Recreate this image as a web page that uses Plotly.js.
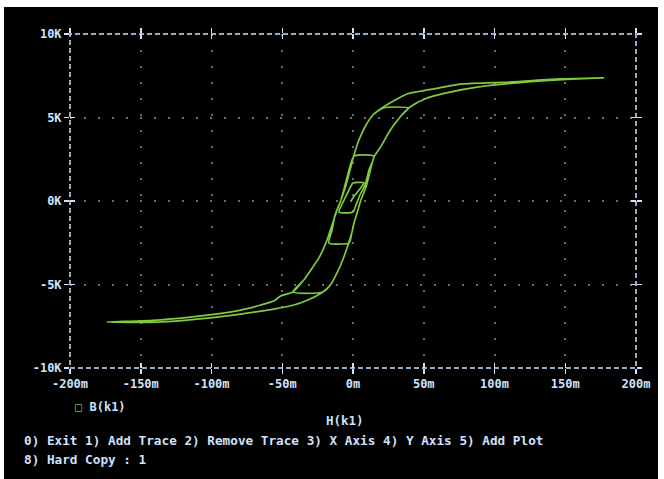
<!DOCTYPE html>
<html>
<head>
<meta charset="utf-8">
<script src="https://cdn.plot.ly/plotly-3.0.1.min.js"></script>
<style>
  html, body { margin: 0; padding: 0; background: #ffffff; width: 664px; height: 479px; overflow: hidden; }
  #chart { position: absolute; left: 4px; top: 7px; width: 654px; height: 472px; }
</style>
</head>
<body>
<div id="chart"></div>
<script>
// Tick positions / labels
const xTickVals = [-200, -150, -100, -50, 0, 50, 100, 150, 200];
const xTickText = ["-200m", "-150m", "-100m", "-50m", "0m", "50m", "100m", "150m", "200m"];
const yTickVals = [-10, -5, 0, 5, 10];
const yTickText = ["-10K", "-5K", "0K", "5K", "10K"];

// H (milli units) and B (K units), in trace order
// initial magnetisation and growing minor loops
const minorH = [-1.4, 1.4, 4.9, 7.7, 0, -2.8, -6.3, -9.9, 0, 2.1, 4.9, 8.5, 11.3, 14.8,
  0.7, -2.8, -5.6, -8.5, -12.7, -14.8, -17.0, -2.8, -0.7, 0.7, 3.5, 5.6, 9.2, 12.0, 14.8,
  19.4, 26.4, 33.3, 38.9, 21.5, 14.1, 9.2, 4.2, 0.7, -2.1, -4.9, -8.5, -12.0, -15.5, -19.1,
  -24.1, -29.8, -34.8, -42.6, -21.3, -15.5, -11.3, -7.0, -3.5, -0.7, 0.7, 3.5, 5.6, 9.2,
  12.0, 14.8, 19.4, 26.4, 33.3, 40.3, 50.7, 66.0, 88.9, 123.6, 158.3, 177.1];
const minorB = [0, 0.36, 0.72, 1.08, 1.08, 0.66, 0.06, -0.66, -0.66, -0.24, 0.36, 0.96, 1.86, 2.69,
  2.69, 1.86, 0.96, 0.06, -0.84, -1.74, -2.51, -2.51, -1.86, -1.32, -0.54, 0.06, 0.84, 1.74, 2.63,
  3.23, 4.25, 5.03, 5.57, 5.57, 5.15, 4.55, 3.65, 2.75, 1.86, 0.96, 0.06, -0.72, -1.62, -2.51,
  -3.41, -4.13, -4.73, -5.45, -5.45, -4.97, -4.31, -3.47, -2.63, -1.86, -1.32, -0.54, 0.06, 0.84,
  1.74, 2.63, 3.23, 4.25, 5.03, 5.63, 6.11, 6.47, 6.83, 7.13, 7.31, 7.37];
// outer descending branch
const downH = [146.5, 111.8, 77.1, 61.1, 38.2, 29.9, 21.5, 14.1, 9.2, 4.2, 0.7, -2.1, -4.9, -8.5,
  -12.0, -15.5, -19.1, -24.1, -29.8, -34.8, -42.6, -51.1, -56.0, -65.2, -79.4, -102.8, -138.3, -173.8];
const downB = [7.31, 7.13, 7.01, 6.77, 6.41, 6.05, 5.63, 5.15, 4.55, 3.65, 2.75, 1.86, 0.96, 0.06,
  -0.72, -1.62, -2.51, -3.41, -4.13, -4.73, -5.45, -5.69, -5.99, -6.23, -6.53, -6.83, -7.13, -7.25];
// outer ascending branch
const upH = [-138.3, -102.8, -79.4, -56.0, -41.8, -31.9, -21.3, -15.5, -11.3, -7.0, -3.5, -0.7, 0.7,
  3.5, 5.6, 9.2, 12.0, 14.8, 19.4, 26.4, 33.3, 40.3, 50.7, 66.0, 88.9, 123.6, 158.3, 177.1];
const upB = [-7.25, -7.01, -6.77, -6.47, -6.23, -5.93, -5.45, -4.97, -4.31, -3.47, -2.63, -1.86, -1.32,
  -0.54, 0.06, 0.84, 1.74, 2.63, 3.23, 4.25, 5.03, 5.63, 6.11, 6.47, 6.83, 7.13, 7.31, 7.37];

const H = minorH.concat(downH, upH);
const B = minorB.concat(downB, upB);

const txtColor = "#cfe2fb";
const gridColor = "rgba(190,200,215,0.55)";
const monoFont = "DejaVu Sans Mono, monospace";

const traces = [
  {x: H, y: B, type: "scatter", mode: "lines", name: "B(k1)",
   line: {color: "#80c940", width: 1.7, shape: "spline", smoothing: 0.6},
   showlegend: false, hoverinfo: "skip"},
  {x: H, y: B, type: "scatter", mode: "lines", xaxis: "x2", yaxis: "y2",
   line: {color: "rgba(0,0,0,0)", width: 0}, showlegend: false, hoverinfo: "skip"}
];

const axisCommon = {
  showline: false, zeroline: false, ticklen: 5, tickwidth: 1.5, tickcolor: txtColor,
  tickfont: {family: monoFont, size: 12, color: txtColor, weight: "bold"}
};

const layout = {
  width: 654, height: 472,
  margin: {l: 66, r: 22, t: 27, b: 111},
  paper_bgcolor: "#000000", plot_bgcolor: "#000000",
  showlegend: false,
  xaxis: Object.assign({}, axisCommon, {
    range: [-200, 200], tickvals: xTickVals, ticktext: xTickText,
    ticks: "outside", mirror: "ticks",
    showgrid: true, gridcolor: gridColor, gridwidth: 2, griddash: "2px,14px"
  }),
  yaxis: Object.assign({}, axisCommon, {
    range: [-10, 10], tickvals: yTickVals, ticktext: yTickText,
    ticks: "outside", mirror: "ticks", ticklabelstandoff: 0,
    showgrid: true, gridcolor: gridColor, gridwidth: 2, griddash: "2px,12px"
  }),
  xaxis2: Object.assign({}, axisCommon, {
    overlaying: "x", anchor: "y2", range: [-200, 200], tickvals: xTickVals,
    ticks: "inside", mirror: "ticks", showgrid: false, showticklabels: false
  }),
  yaxis2: Object.assign({}, axisCommon, {
    overlaying: "y", anchor: "x2", range: [-10, 10], tickvals: yTickVals,
    ticks: "inside", mirror: "ticks", showgrid: false, showticklabels: false
  }),
  shapes: [
    {type: "rect", xref: "paper", yref: "paper", x0: 0, x1: 1, y0: 0, y1: 1,
     line: {color: txtColor, width: 1.5, dash: "5px,3px"}, layer: "above"}
  ],
  annotations: [
    {xref: "paper", yref: "paper", x: 0.006, y: -0.117, xanchor: "left", yanchor: "middle",
     showarrow: false, text: "<span style='color:#5fbf4a'>□</span> B(k1)",
     font: {family: monoFont, size: 12, color: txtColor, weight: "bold"}},
    {xref: "paper", yref: "paper", x: 0.486, y: -0.156, xanchor: "center", yanchor: "middle",
     showarrow: false, text: "H(k1)",
     font: {family: monoFont, size: 12.5, color: txtColor, weight: "bold"}},
    {xref: "paper", yref: "paper", x: -0.085, y: -0.216, xanchor: "left", yanchor: "middle",
     showarrow: false, text: "0) Exit 1) Add Trace 2) Remove Trace 3) X Axis 4) Y Axis 5) Add Plot",
     font: {family: monoFont, size: 12.7, color: txtColor, weight: "bold"}},
    {xref: "paper", yref: "paper", x: -0.085, y: -0.275, xanchor: "left", yanchor: "middle",
     showarrow: false, text: "8) Hard Copy : 1",
     font: {family: monoFont, size: 12.7, color: txtColor, weight: "bold"}}
  ]
};

Plotly.newPlot("chart", traces, layout, {displayModeBar: false, staticPlot: true});
</script>
</body>
</html>
